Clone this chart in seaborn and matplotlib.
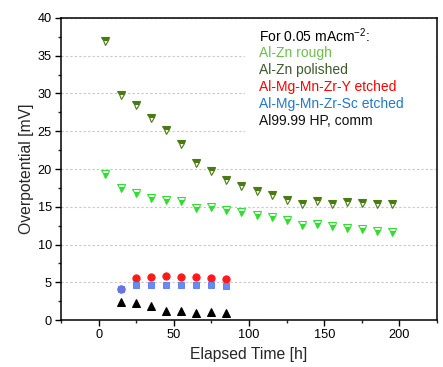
import numpy as np
import pandas as pd
import matplotlib
matplotlib.use("Agg")
import matplotlib.pyplot as plt
from matplotlib.patches import Rectangle
from matplotlib.ticker import MultipleLocator
import seaborn as sns

# Elapsed time [h] and overpotential [mV] at 0.05 mA/cm^2
t_zn = [4, 15, 25, 35, 45, 55, 65, 75, 85, 95, 105, 115, 125, 135, 145, 155, 165, 175, 185, 195]
zn_rough = [19.4, 17.5, 16.8, 16.1, 15.9, 15.7, 14.8, 15.0, 14.6, 14.3,
            13.9, 13.6, 13.2, 12.6, 12.7, 12.4, 12.2, 12.0, 11.8, 11.6]
zn_polished = [37.0, 29.8, 28.5, 26.7, 25.2, 23.3, 20.8, 19.7, 18.5, 17.8,
               17.1, 16.5, 15.9, 15.3, 15.7, 15.4, 15.6, 15.5, 15.3, 15.3]

t_mg = [15, 25, 35, 45, 55, 65, 75, 85]
mg_y = [4.1, 5.5, 5.7, 5.8, 5.7, 5.7, 5.5, 5.4]
mg_sc = [4.1, 4.6, 4.7, 4.7, 4.6, 4.6, 4.7, 4.5]
al_hp = [2.35, 2.2, 1.8, 1.15, 1.2, 0.95, 1.0, 0.95]

legend_title = "For 0.05 mAcm$^{-2}$:"
legend_labels = ["Al-Zn rough", "Al-Zn polished", "Al-Mg-Mn-Zr-Y etched",
                 "Al-Mg-Mn-Zr-Sc etched", "Al99.99 HP, comm"]
legend_colors = ["#6cbf4c", "#3d5a2a", "#ff0000", "#1f78d0", "#111111"]

sns.set_theme(style="ticks")
plt.rcParams["font.family"] = ["Liberation Sans", "DejaVu Sans"]
plt.rcParams["mathtext.fontset"] = "custom"
plt.rcParams["mathtext.rm"] = "Liberation Sans"
plt.rcParams["mathtext.it"] = "Liberation Sans:italic"

fig = plt.figure(figsize=(4.43, 3.67), dpi=100)
ax = fig.add_axes([0.1377, 0.128, 0.8488, 0.823])

common = dict(linestyle="", legend=False, ax=ax, estimator=None)

sns.lineplot(x=t_zn, y=zn_rough, marker="v", markersize=6.0, fillstyle="bottom",
             color="#2ee02e", markeredgecolor="#2ee02e", markerfacecoloralt="white",
             markeredgewidth=0.8, zorder=4, **common)
sns.lineplot(x=t_zn, y=zn_polished, marker="v", markersize=6.0, fillstyle="top",
             color="#4a7a12", markeredgecolor="#4a7a12", markerfacecoloralt="white",
             markeredgewidth=0.8, zorder=4, **common)
sns.lineplot(x=t_mg, y=mg_y, marker="o", markersize=5.2, color="#ff1a1a",
             markeredgecolor="#ff1a1a", zorder=4, **common)
sns.lineplot(x=t_mg, y=mg_sc, marker="s", markersize=4.5, color="#5a7ff0",
             markeredgecolor="#5a7ff0", alpha=0.9, zorder=5, **common)
sns.lineplot(x=t_mg, y=al_hp, marker="^", markersize=5.8, color="black",
             markeredgecolor="black", zorder=4, **common)

ax.set_xlim(-25, 225)
ax.set_ylim(0, 40)
ax.xaxis.set_major_locator(MultipleLocator(50))
ax.xaxis.set_minor_locator(MultipleLocator(25))
ax.yaxis.set_major_locator(MultipleLocator(5))
ax.yaxis.set_minor_locator(MultipleLocator(2.5))
ax.tick_params(which="major", direction="out", length=4.5, width=1.0, labelsize=9.2,
               colors="black", pad=2)
ax.tick_params(which="minor", direction="out", length=2.5, width=1.0)
ax.tick_params(top=False, right=False, which="both")

for sp in ax.spines.values():
    sp.set_visible(True)
    sp.set_linewidth(1.1)
    sp.set_color("black")

ax.yaxis.grid(True, which="major", linestyle=(0, (2, 2)), color="#c8c8c8", linewidth=0.8)
ax.set_axisbelow(True)

ax.set_xlabel("Elapsed Time [h]", fontsize=11.3, labelpad=4)
ax.set_ylabel("Overpotential [mV]", fontsize=11.3, labelpad=3)

# white panel behind the text legend
ax.add_patch(Rectangle((0.489, 0.596), 0.508, 0.381, transform=ax.transAxes,
                       facecolor="white", edgecolor="none", zorder=1))

ys = [0.940, 0.884, 0.828, 0.772, 0.715, 0.659]
ax.text(0.527, ys[0], legend_title, transform=ax.transAxes, fontsize=10,
        color="black", va="center", ha="left", zorder=6)
for yy, lab, col in zip(ys[1:], legend_labels, legend_colors):
    ax.text(0.527, yy, lab, transform=ax.transAxes, fontsize=10,
            color=col, va="center", ha="left", zorder=6)

fig.savefig("out.png", dpi=100)
